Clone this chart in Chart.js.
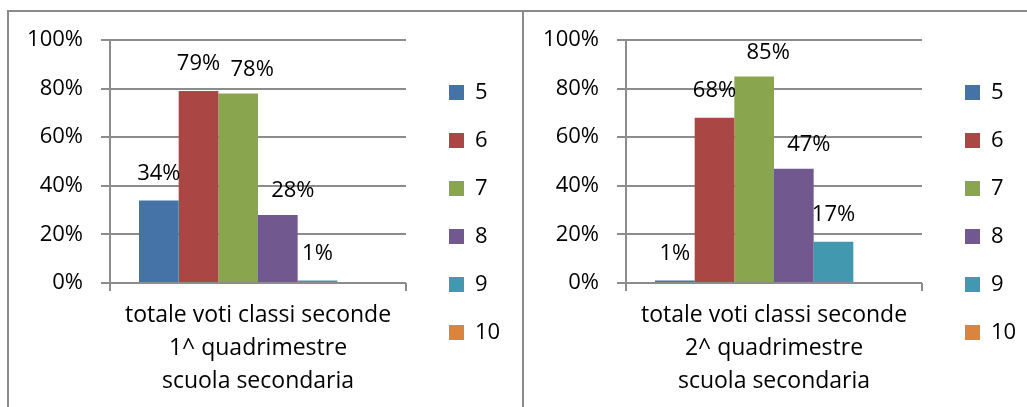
<!DOCTYPE html>
<html lang="it">
<head>
  <meta charset="UTF-8">
  <title>Totale voti classi seconde</title>
  <script src="https://cdn.jsdelivr.net/npm/chart.js@4/dist/chart.umd.min.js"></script>
  <style>
    body { margin: 0; background: #fff; width: 1027px; height: 407px; overflow: hidden; position: relative; }
    .panel { position: absolute; top: 10px; height: 420px; border: 2px solid #8a8a8a; box-sizing: border-box; }
    .wrap { position: absolute; top: 0; height: 407px; }
  </style>
</head>
<body>
  <!-- cornici dei due grafici -->
  <div class="panel" style="left:7px; width:517px;"></div>
  <div class="panel" style="left:522px; width:520px;"></div>

  <div class="wrap" style="left:0; width:515px;"><canvas id="chart1"></canvas></div>
  <div class="wrap" style="left:516px; width:511px;"><canvas id="chart2"></canvas></div>

  <script>
    // voti (serie) e percentuali
    const grades = ['5', '6', '7', '8', '9', '10'];
    const colors = ['#4572A7', '#AA4643', '#89A54E', '#71588F', '#4198AF', '#DB843D'];
    const label1 = ['totale voti classi seconde', '1^ quadrimestre', 'scuola secondaria'];
    const label2 = ['totale voti classi seconde', '2^ quadrimestre', 'scuola secondaria'];
    const values1 = [34, 79, 78, 28, 1, 0];
    const values2 = [1, 68, 85, 47, 17, 0];
    const yTicks = [0, 20, 40, 60, 80, 100];

    // spostamento etichette come nell'originale (px)
    const labelDx = [0, 0, 14, 15, 0, 0];
    const labelDy = [27, 27, 24, 24, 27, 27];

    const FONT = '"Open Sans", sans-serif';
    const GRID = '#8c8c8c';
    const PLOT_RIGHT = 406;   // bordo destro area grafico
    const LEGEND_BOX_X = 449; // posizione quadratini legenda
    const LEGEND_SHIFT_Y = -11;

    // etichette dati sopra le barre
    const valueLabels = {
      id: 'valueLabels',
      afterDatasetsDraw(chart) {
        const ctx = chart.ctx;
        ctx.save();
        ctx.font = '22px ' + FONT;
        ctx.fillStyle = '#000';
        ctx.textAlign = 'center';
        ctx.textBaseline = 'middle';
        chart.data.datasets.forEach((ds, i) => {
          const meta = chart.getDatasetMeta(i);
          meta.data.forEach((bar, j) => {
            const v = ds.data[j];
            if (!v) return;
            ctx.fillText(v + '%', bar.x + labelDx[i], bar.y - labelDy[i]);
          });
        });
        ctx.restore();
      }
    };

    // legenda staccata dall'area del grafico
    const legendGap = {
      id: 'legendGap',
      afterLayout(chart) {
        const lg = chart.legend;
        const w = lg.right - lg.left;
        lg.left = LEGEND_BOX_X - lg.options.labels.padding;
        lg.right = lg.left + w;
        lg.top += LEGEND_SHIFT_Y;
        lg.bottom += LEGEND_SHIFT_Y;
      }
    };

    function makeChart(id, catLabel, values) {
      const ctx = document.getElementById(id).getContext('2d');
      const chart = new Chart(ctx, {
        type: 'bar',
        data: {
          labels: [catLabel],
          datasets: grades.map((g, i) => ({
            label: g,
            data: [values[i]],
            backgroundColor: colors[i],
            borderWidth: 0,
            barPercentage: 1,
            categoryPercentage: 0.804
          }))
        },
        options: {
          responsive: true,
          maintainAspectRatio: false,
          animation: false,
          layout: { padding: { top: 40, right: 3, bottom: 0, left: 0 } },
          plugins: {
            tooltip: { enabled: false },
            legend: {
              position: 'right',
              align: 'center',
              labels: {
                boxWidth: 15,
                boxHeight: 15,
                padding: 26,
                color: '#000',
                font: { family: FONT, size: 22 }
              }
            }
          },
          scales: {
            x: {
              grid: { drawOnChartArea: false, drawTicks: true, tickLength: 8, color: GRID, lineWidth: 2 },
              border: { display: false },
              ticks: { color: '#000', padding: 8, font: { family: FONT, size: 23, lineHeight: 1.43 }, maxRotation: 0 },
              afterFit(scale) { scale.height = 124; }
            },
            y: {
              min: 0,
              max: 100,
              afterBuildTicks(scale) { scale.ticks = yTicks.map(v => ({ value: v })); },
              grid: { color: GRID, lineWidth: 2, tickLength: 9 },
              border: { color: GRID, width: 2 },
              ticks: {
                color: '#000',
                padding: 18,
                font: { family: FONT, size: 22 },
                callback: v => v + '%'
              },
              afterFit(scale) { scale.width = 110; }
            }
          }
        },
        plugins: [valueLabels, legendGap]
      });
      // allinea il bordo destro dell'area grafico
      chart.options.layout.padding.right += chart.chartArea.right - PLOT_RIGHT;
      chart.update();
      return chart;
    }

    makeChart('chart1', label1, values1);
    makeChart('chart2', label2, values2);
  </script>
</body>
</html>
